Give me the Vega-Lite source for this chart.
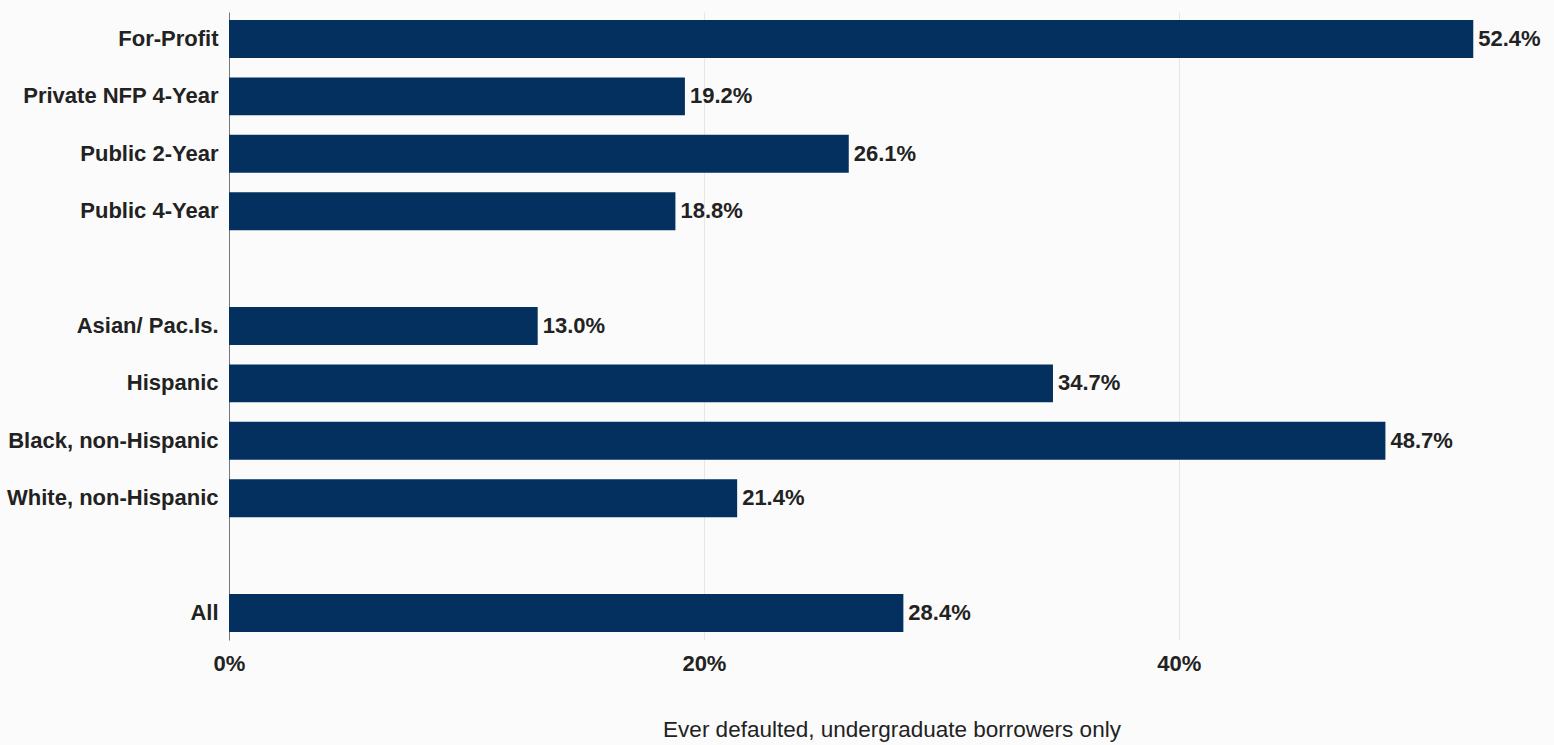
{
  "$schema": "https://vega.github.io/schema/vega-lite/v6.json",
  "width": 1325,
  "height": 628,
  "autosize": {"type": "none"},
  "padding": {"left": 229, "top": 12, "right": 0, "bottom": 105},
  "background": "#fbfbfb",
  "data": {
    "values": [
      {"group": "For-Profit", "rate": 0.524},
      {"group": "Private NFP 4-Year", "rate": 0.192},
      {"group": "Public 2-Year", "rate": 0.261},
      {"group": "Public 4-Year", "rate": 0.188},
      {"group": "Asian/ Pac.Is.", "rate": 0.130},
      {"group": "Hispanic", "rate": 0.347},
      {"group": "Black, non-Hispanic", "rate": 0.487},
      {"group": "White, non-Hispanic", "rate": 0.214},
      {"group": "All", "rate": 0.284}
    ]
  },
  "config": {
    "view": {"stroke": null},
    "font": "Liberation Sans"
  },
  "encoding": {
    "y": {
      "field": "group",
      "type": "nominal",
      "scale": {
        "domain": ["For-Profit", "Private NFP 4-Year", "Public 2-Year", "Public 4-Year", " ", "Asian/ Pac.Is.", "Hispanic", "Black, non-Hispanic", "White, non-Hispanic", "  ", "All"],
        "paddingInner": 0.34,
        "paddingOuter": 0.14
      },
      "axis": {
        "title": null,
        "ticks": false,
        "labelPadding": 11,
        "labelLimit": 0,
        "labelFont": "Liberation Sans",
        "labelFontSize": 22,
        "labelFontWeight": "bold",
        "labelColor": "#222222",
        "domainColor": "#777777",
        "domainWidth": 1,
        "grid": false
      }
    },
    "x": {
      "field": "rate",
      "type": "quantitative",
      "scale": {"domain": [0, 0.558], "nice": false},
      "axis": {
        "title": "Ever defaulted, undergraduate borrowers only",
        "titleFont": "Liberation Sans",
        "titleFontSize": 22.5,
        "titleFontWeight": "normal",
        "titleColor": "#222222",
        "titlePadding": 44,
        "values": [0, 0.2, 0.4],
        "format": ".0%",
        "ticks": false,
        "domain": false,
        "labelFlush": false,
        "labelPadding": 13,
        "labelFont": "Liberation Sans",
        "labelFontSize": 22,
        "labelFontWeight": "bold",
        "labelColor": "#222222",
        "grid": true,
        "gridColor": "#e6e6e6",
        "gridWidth": 1
      }
    }
  },
  "layer": [
    {"mark": {"type": "bar", "color": "#03305f"}},
    {
      "mark": {"type": "text", "align": "left", "baseline": "middle", "dx": 5, "font": "Liberation Sans", "fontSize": 22, "fontWeight": "bold", "color": "#222222"},
      "encoding": {"text": {"field": "rate", "type": "quantitative", "format": ".1%"}}
    }
  ]
}
